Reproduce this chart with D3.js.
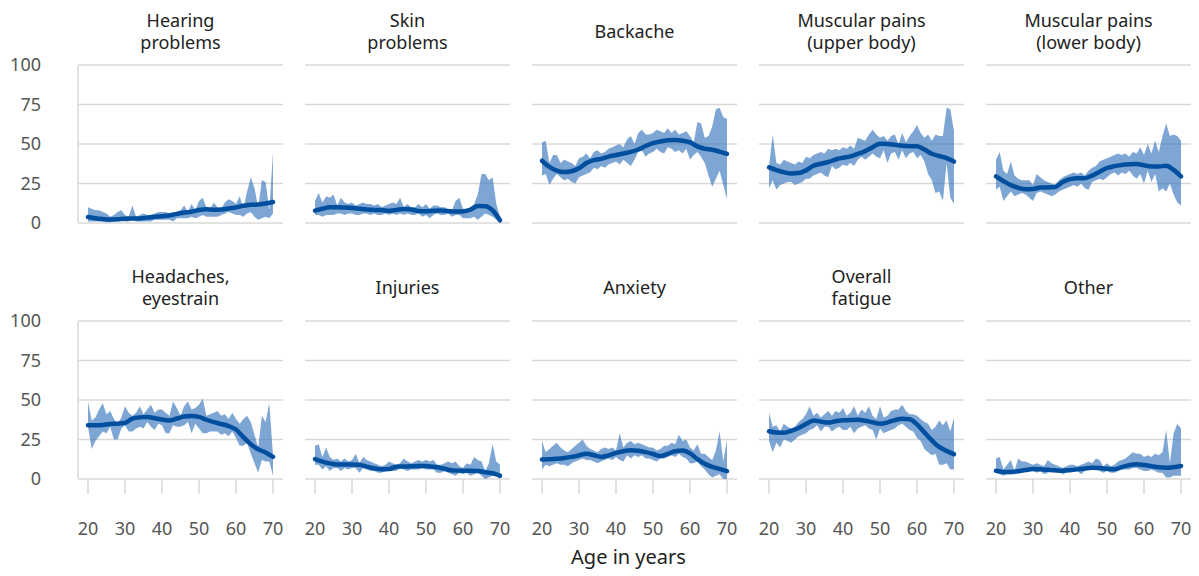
<!DOCTYPE html>
<html>
<head>
<meta charset="utf-8">
<script src="https://cdn.jsdelivr.net/npm/d3@7"></script>
<style>
  body { margin: 0; background: #fff; }
  text { font-family: "Noto Sans", "Open Sans", sans-serif; }
</style>
</head>
<body>
<div id="containerChart"></div>
<script>
// ages on the x axis (one band point per year, trend every 2 years)
const ages = [20,21,22,23,24,25,26,27,28,29,30,31,32,33,34,35,36,37,38,39,40,
              41,42,43,44,45,46,47,48,49,50,51,52,53,54,55,56,57,58,59,60,
              61,62,63,64,65,66,67,68,69,70];
const trendAges = [20,22,24,26,28,30,32,34,36,38,40,42,44,46,48,50,52,54,56,58,60,62,64,66,68,70];

const titles = [
  ["Hearing", "problems"], ["Skin", "problems"], ["Backache"],
  ["Muscular pains", "(upper body)"], ["Muscular pains", "(lower body)"],
  ["Headaches,", "eyestrain"], ["Injuries"], ["Anxiety"],
  ["Overall", "fatigue"], ["Other"]
];
const yTicks = [0, 25, 50, 75, 100];
const xTicks = [20, 30, 40, 50, 60, 70];

// Hearing problems
const hearingLow = [1,1,1,1,1,0.5,0.5,1,1,2, 1,1,2,1,1,1,1,1,2,2, 2,2,2,1,3,3,3,3,4,3, 4,5,4,4,4,4,5,6,7,6, 5,5,4,6,7,4,2,3,4,3, 6];
const hearingHigh = [10,9,8,8,7,6,4,5,7,8, 5,4,11,4,5,6,5,5,6,7, 7,7,6,5,7,8,11,7,12,8, 14,16,10,9,13,10,9,13,15,14, 12,17,9,20,29,22,10,27,26,8, 45];
const hearingTrend = [3.8,3.0,2.5,2.2,2.4,2.7,2.8,2.9,3.4,4.0,4.3,4.8,5.8,6.7,7.1,8.2,8.7,8.4,8.6,9.2,9.9,10.9,11.5,11.7,12.3,13.3];

// Skin problems
const skinLow = [5,5,4,5,5,5,6,6,5,6, 6,5,5,6,6,5,6,5,5,6, 5,6,5,6,5,6,5,5,6,4, 5,3,5,6,5,5,6,4,5,5, 3,3,3,4,2,4,6,5,4,2, 0];
const skinHigh = [14,19,13,17,16,18,11,16,13,12, 13,11,12,13,12,12,11,12,10,11, 12,13,12,16,10,12,10,10,12,10, 12,9,11,11,10,10,9,8,14,16, 9,9,9,12,18,31,31,27,29,12, 4];
const skinTrend = [7.8,9.0,9.9,10.0,9.8,9.5,9.0,8.5,8.3,8.2,7.7,8.3,8.8,8.5,7.6,7.4,7.8,7.9,7.5,7.2,7.2,8.5,10.7,10.6,8.0,1.7];

// Backache
const backLow = [30,31,24,28,31,29,27,28,26,25, 29,30,31,32,35,34,36,35,37,38, 39,37,40,38,36,40,45,46,42,44, 45,47,45,44,48,47,45,46,44,47, 40,43,45,42,38,30,23,28,33,24, 15];
const backHigh = [51,52,38,43,43,38,40,39,38,36, 41,42,44,41,45,46,44,45,47,48, 49,50,48,53,55,50,57,59,56,56, 57,59,58,57,60,57,59,56,57,58, 55,51,64,63,54,55,61,72,73,67, 66];
const backTrend = [39.4,35.5,33.2,32.3,32.8,34.6,38.0,39.8,40.6,42.0,43.0,44.0,45.0,46.5,48.7,50.5,51.6,52.3,52.5,52.0,51.0,48.5,47.0,46.4,45.2,43.8];

// Muscular pains (upper body)
const upperLow = [22,27,21,24,25,26,26,24,25,26, 28,28,30,31,32,30,29,36,34,35, 37,36,38,36,40,42,40,42,44,42, 41,46,38,44,45,40,46,41,44,45, 41,43,39,31,27,19,20,14,38,16, 12];
const upperHigh = [36,56,38,37,40,39,38,37,39,38, 42,41,43,44,45,44,47,46,47,46, 48,47,49,47,54,53,52,56,59,56, 54,55,52,55,56,50,57,51,55,58, 62,57,54,56,52,56,55,55,73,72, 58];
const upperTrend = [35.2,33.5,32.2,31.3,31.6,33.3,36.2,37.5,38.6,40.2,41.3,42.2,43.7,45.5,48.0,50.1,50.0,49.5,48.9,48.6,48.5,46.5,43.8,42.4,41.0,38.9];

// Muscular pains (lower body)
const lowerLow = [21,23,14,17,20,17,18,19,18,16, 14,19,20,19,18,17,18,20,21,22, 23,24,23,25,22,21,26,27,28,27, 29,31,32,30,32,31,33,30,28,31, 25,33,26,31,20,22,20,25,18,13, 11];
const lowerHigh = [40,45,33,31,39,30,28,27,27,27, 24,31,29,27,26,25,24,27,29,30, 31,32,31,32,30,33,35,36,39,40, 41,42,43,44,43,44,42,45,44,48, 43,50,44,52,45,55,63,55,56,55, 52];
const lowerTrend = [29.5,26.5,24.0,22.3,21.3,21.5,22.5,22.5,22.8,26.0,27.8,28.4,28.4,30.0,32.5,34.8,36.0,36.7,37.2,37.3,36.5,35.8,35.8,36.2,33.6,29.5];

// Headaches, eyestrain
const headLow = [33,19,24,27,30,29,33,25,25,32, 34,30,30,32,33,32,36,33,31,35, 34,29,29,34,33,33,34,36,29,35, 32,29,29,30,30,30,28,29,27,30, 26,21,21,23,16,10,4,12,11,11, 2];
const headHigh = [49,37,39,44,48,41,43,38,35,39, 46,42,40,42,46,41,44,47,42,44, 44,42,40,49,45,40,46,49,44,45, 47,51,40,41,42,43,40,41,38,42, 38,35,38,40,36,28,20,40,36,48, 15];
const headTrend = [34.0,34.0,34.2,34.8,35.0,35.5,38.2,39.0,39.2,38.5,37.6,37.1,38.3,39.5,39.8,39.3,37.5,36.0,34.8,33.5,31.3,26.5,22.0,18.8,16.8,14.0];

// Injuries
const injuryLow = [9,9,6,8,5,7,7,5,7,6, 7,7,4,7,6,5,5,4,4,5, 5,5,5,7,6,5,6,6,6,7, 6,6,6,4,4,5,4,3,2,4, 3,4,2,3,4,2,0,1,2,2, 0];
const injuryHigh = [21,22,14,20,14,12,13,11,13,11, 12,16,10,14,12,11,10,9,8,9, 11,10,9,10,13,11,10,11,12,11, 12,11,12,9,9,10,11,10,11,8, 7,10,9,14,12,11,5,10,22,11, 9];
const injuryTrend = [12.6,11.0,9.9,9.2,9.2,9.2,9.0,7.8,6.8,6.1,6.3,7.8,7.9,8.0,8.3,8.2,7.7,7.0,5.9,5.3,5.2,5.2,5.0,4.3,3.6,2.1];

// Anxiety
const anxietyLow = [6,9,8,9,10,9,9,8,10,11, 12,13,12,12,11,10,11,12,13,12, 14,12,11,15,13,15,14,15,13,13, 12,11,13,13,14,15,14,16,14,13, 10,10,11,8,6,3,1,2,3,0, 0];
const anxietyHigh = [24,17,19,21,23,20,18,17,19,21, 23,25,21,19,18,17,19,20,19,20, 18,29,20,23,24,22,23,22,21,20, 20,18,19,21,21,23,22,28,24,25, 20,18,22,16,16,14,12,18,30,11, 25];
const anxietyTrend = [12.4,12.5,12.8,13.3,14.0,15.0,16.0,15.0,14.0,15.0,16.5,17.6,18.2,17.9,17.0,15.8,14.5,15.9,17.6,18.0,16.2,12.6,9.6,7.6,6.4,5.0];

// Overall fatigue
const fatigueLow = [24,17,23,20,25,24,23,25,27,28, 29,31,32,34,30,33,33,30,32,33, 31,31,33,29,32,33,34,32,31,25, 32,29,30,31,32,34,35,33,31,30, 26,24,19,17,15,16,9,9,10,6, 6];
const fatigueHigh = [42,33,34,30,35,33,32,33,36,38, 41,46,40,42,39,41,43,40,43,42, 45,40,42,46,40,44,42,46,40,38, 46,39,40,43,44,44,47,43,41,41, 40,38,36,35,31,33,37,34,37,30, 39];
const fatigueTrend = [30.2,29.4,29.3,30.5,32.3,34.8,37.1,36.3,35.7,36.6,37.2,37.3,37.5,36.9,35.9,35.0,35.8,37.3,38.2,37.8,34.6,29.5,24.5,20.3,17.7,15.7];

// Other
const otherLow = [4,3,2,3,3,3,4,5,5,5, 5,4,5,3,4,5,4,5,3,4, 5,5,5,3,5,6,6,6,5,4, 5,4,4,5,6,6,6,7,7,6, 5,5,6,5,4,4,1,1,2,2, 2];
const otherHigh = [13,14,6,9,12,5,13,11,11,10, 9,10,9,8,12,10,9,8,7,8, 9,9,8,9,10,11,10,13,12,8, 10,8,9,11,12,13,15,17,16,16, 14,15,14,16,15,17,31,10,29,35, 32];
const otherTrend = [5.2,4.5,4.5,4.9,5.7,6.3,6.1,5.8,5.5,5.3,5.6,6.1,6.7,7.1,6.9,6.5,6.2,7.5,8.8,9.4,8.8,8.1,7.4,7.1,7.5,8.2];


function buildPanels() {
    let lows = [hearingLow, skinLow, backLow, upperLow, lowerLow, headLow, injuryLow, anxietyLow, fatigueLow, otherLow];
    let highs = [hearingHigh, skinHigh, backHigh, upperHigh, lowerHigh, headHigh, injuryHigh, anxietyHigh, fatigueHigh, otherHigh];
    let trends = [hearingTrend, skinTrend, backTrend, upperTrend, lowerTrend, headTrend, injuryTrend, anxietyTrend, fatigueTrend, otherTrend];

    return titles.map(function(t, i) {
        return {
            title: t,
            band: ages.map(function(a, j) { return {age: a, low: lows[i][j], high: highs[i][j]}; }),
            trend: trendAges.map(function(a, j) { return {age: a, value: trends[i][j]}; })
        };
    });
}


function mainChart() {
    let w = 1199, h = 576;
    let left = 78;
    let panelW = 205, gapX = 22;
    let panelH = 158;
    let rowTop = [65, 321];
    let gridColor = "#d8d8d8";
    let bandColor = "#3776bd";
    let lineColor = "#004f9e";
    let tickFont = "18px";

    let panels = buildPanels();

    let x = d3.scaleLinear().domain([20, 70]).range([10, panelW - 10]);
    let y = d3.scaleLinear().domain([0, 100]).range([panelH, 0]);

    let area = d3.area()
        .x(function(d) { return x(d.age); })
        .y0(function(d) { return y(d.low); })
        .y1(function(d) { return y(d.high); });

    let line = d3.line()
        .x(function(d) { return x(d.age); })
        .y(function(d) { return y(d.value); })
        .curve(d3.curveMonotoneX);

    let svg = d3.select("#containerChart")
        .append("svg")
        .attr("width", w)
        .attr("height", h);

    panels.forEach(function(p, i) {
        let col = i % 5, row = Math.floor(i / 5);
        let g = svg.append("g")
            .attr("transform", "translate(" + (left + col * (panelW + gapX)) + "," + rowTop[row] + ")");

        // gridlines
        g.selectAll("line.grid")
            .data(yTicks)
            .enter().append("line")
            .attr("class", "grid")
            .attr("x1", 0).attr("x2", panelW)
            .attr("y1", function(d) { return y(d); })
            .attr("y2", function(d) { return y(d); })
            .style("stroke", gridColor)
            .style("stroke-width", 1.5);

        // left axis only on first column
        if (col == 0) {
            g.append("line")
                .attr("x1", 0).attr("x2", 0)
                .attr("y1", y(0)).attr("y2", y(100))
                .style("stroke", gridColor)
                .style("stroke-width", 1.5);

            g.selectAll("text.ytick")
                .data(yTicks)
                .enter().append("text")
                .attr("class", "ytick")
                .attr("x", -37)
                .attr("y", function(d) { return y(d); })
                .attr("dy", "0.35em")
                .attr("text-anchor", "end")
                .style("font-size", tickFont)
                .style("fill", "#555")
                .text(function(d) { return d; });
        }

        // x ticks only on bottom row
        if (row == 1) {
            g.selectAll("line.xtick")
                .data(xTicks)
                .enter().append("line")
                .attr("class", "xtick")
                .attr("x1", function(d) { return x(d); })
                .attr("x2", function(d) { return x(d); })
                .attr("y1", panelH).attr("y2", panelH + 15)
                .style("stroke", gridColor)
                .style("stroke-width", 1.5);

            g.selectAll("text.xtick")
                .data(xTicks)
                .enter().append("text")
                .attr("class", "xtick")
                .attr("x", function(d) { return x(d); })
                .attr("y", panelH + 56)
                .attr("text-anchor", "middle")
                .style("font-size", tickFont)
                .style("fill", "#555")
                .text(function(d) { return d; });
        }

        // band
        g.append("path")
            .datum(p.band)
            .attr("d", area)
            .style("fill", bandColor)
            .style("opacity", 0.65);

        // smoothed trend
        g.append("path")
            .datum(p.trend)
            .attr("d", line)
            .style("fill", "none")
            .style("stroke", lineColor)
            .style("stroke-width", 4.5)
            .style("stroke-linecap", "round");

        // title (one or two lines)
        let baseY = p.title.length == 1 ? [-27] : [-38, -16];
        g.selectAll("text.title")
            .data(p.title)
            .enter().append("text")
            .attr("class", "title")
            .attr("x", panelW / 2)
            .attr("y", function(d, k) { return baseY[k]; })
            .attr("text-anchor", "middle")
            .style("font-size", "18px")
            .style("fill", "#222")
            .text(function(d) { return d; });
    });

    // axis title
    svg.append("text")
        .attr("x", left + 2 * (panelW + gapX) + panelW / 2 - 6)
        .attr("y", 564)
        .attr("text-anchor", "middle")
        .style("font-size", "20px")
        .style("fill", "#222")
        .text("Age in years");
}

mainChart();
</script>
</body>
</html>
